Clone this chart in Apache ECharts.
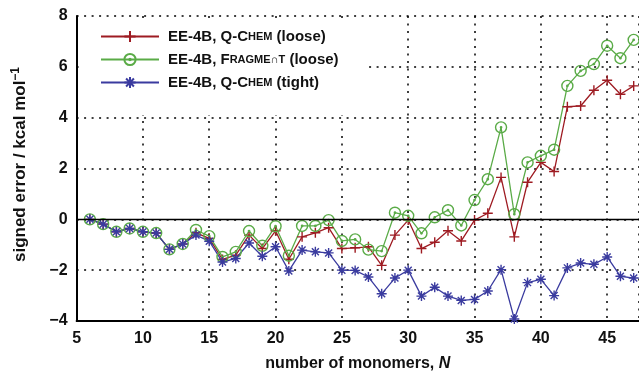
<!DOCTYPE html>
<html><head><meta charset="utf-8">
<script src="https://cdn.jsdelivr.net/npm/echarts@6/dist/echarts.min.js"></script>
<style>html,body{margin:0;padding:0;background:#fff}#c{width:639px;height:372px}</style>
</head><body><div id="c"></div>
<script>
const monomers = [6,7,8,9,10,11,12,13,14,15,16,17,18,19,20,21,22,23,24,25,26,27,28,29,30,31,32,33,34,35,36,37,38,39,40,41,42,43,44,45,46,47];
const qchemLoose = [0,-0.19,-0.49,-0.36,-0.49,-0.54,-1.18,-0.97,-0.53,-0.75,-1.58,-1.41,-0.62,-1.15,-0.45,
  -1.57,-0.69,-0.53,-0.33,-1.15,-1.12,-1.08,-1.81,-0.62,-0.03,-1.15,-0.90,-0.45,-0.85,
  -0.03,0.24,1.65,-0.69,1.46,2.24,1.88,4.43,4.46,5.08,5.47,4.92,5.25];
const fragmentLoose = [0,-0.19,-0.49,-0.36,-0.49,-0.54,-1.18,-0.97,-0.42,-0.66,-1.48,-1.28,-0.46,-1.04,-0.27,
  -1.43,-0.26,-0.26,-0.03,-0.85,-0.79,-1.19,-1.25,0.26,0.14,-0.55,0.08,0.36,-0.24,
  0.76,1.58,3.62,0.20,2.24,2.50,2.74,5.25,5.84,6.11,6.83,6.34,7.06];
const qchemTight = [0,-0.19,-0.49,-0.36,-0.49,-0.54,-1.18,-0.97,-0.62,-0.86,-1.68,-1.54,-0.93,-1.45,-1.08,
  -2.03,-1.21,-1.28,-1.32,-2.00,-2.01,-2.27,-2.93,-2.31,-2.00,-3.02,-2.67,-3.02,-3.19,
  -3.15,-2.82,-1.98,-3.92,-2.49,-2.36,-3.00,-1.91,-1.72,-1.77,-1.48,-2.24,-2.31];
const seriesNames = ['EE-4B, Q-Chem (loose)','EE-4B, Fragment (loose)','EE-4B, Q-Chem (tight)'];
const xTicks = [5,10,15,20,25,30,35,40,45];
const yTicks = [-4,-2,0,2,4,6,8];

const FONT = '"Liberation Sans", Arial, sans-serif';
const RED = '#9e1b22', GREEN = '#5aab47', BLUE = '#3a3b9f';
const pairs = arr => monomers.map((n,i)=>[n,arr[i]]);
const SYM_PLUS = 'path://M5,0 L5,10 M0,5 L10,5';
const SYM_CIRC = 'path://M10,5 A5,5 0 1 1 0,5 A5,5 0 1 1 10,5 Z M5.6,5 A0.6,0.6 0 1 1 4.4,5 A0.6,0.6 0 1 1 5.6,5 Z';
const SYM_AST = 'path://M5,0 L5,10 M0,5 L10,5 M1.5,1.5 L8.5,8.5 M8.5,1.5 L1.5,8.5';

function mk(name, arr, color, sym, size){
  return {name, type:'line', data:pairs(arr), symbol:sym, symbolSize:size,
    lineStyle:{color, width:1.3},
    itemStyle:{color:'rgba(0,0,0,0)', borderColor:color, borderWidth:1.4},
    emphasis:{disabled:true}, animation:false, z:3};
}
const series = [
  mk(seriesNames[0], qchemLoose, RED, SYM_PLUS, 10),
  mk(seriesNames[1], fragmentLoose, GREEN, SYM_CIRC, 11),
  mk(seriesNames[2], qchemTight, BLUE, SYM_AST, 10)
];
series[0].markLine = {silent:true, symbol:'none', label:{show:false}, animation:false,
  lineStyle:{color:'#000', type:'solid', width:1.3}, data:[{yAxis:0}]};

const chart = echarts.init(document.getElementById('c'), null, {renderer:'canvas'});
chart.setOption({
  animation:false,
  backgroundColor:'#fff',
  grid:{left:76.6, right:0, top:16, bottom:51, containLabel:false, outerBoundsMode:'none'},
  legend:{
    orient:'vertical', left:83, top:20, itemWidth:58, itemHeight:14, itemGap:8,
    padding:[9,30,25,17], backgroundColor:'#fff', z:10,
    data:seriesNames,
    textStyle:{fontFamily:FONT, fontWeight:'bold', fontSize:15, color:'#111', padding:[0,0,0,4],
      rich:{s:{fontFamily:FONT, fontWeight:'bold', fontSize:11, color:'#111'},
            n:{fontFamily:FONT, fontWeight:'bold', fontSize:15, color:'#111'}}},
    formatter: function(name){
      if(name===seriesNames[0]) return '{n|EE-4B, Q-C}{s|HEM}{n| (loose)}';
      if(name===seriesNames[1]) return '{n|EE-4B, F}{s|RAGME∩T}{n| (loose)}';
      return '{n|EE-4B, Q-C}{s|HEM}{n| (tight)}';
    }
  },
  xAxis:{
    type:'value', min:5, max:47.4, interval:5,
    name:'{a|number of monomers, }{i|N}', nameLocation:'middle', nameGap:35,
    nameTextStyle:{rich:{a:{fontFamily:FONT, fontWeight:'bold', fontSize:16, color:'#111'},
                         i:{fontFamily:FONT, fontWeight:'bold', fontStyle:'italic', fontSize:16, color:'#111'}}},
    axisLine:{show:true, onZero:false, lineStyle:{color:'#000', width:2}},
    axisTick:{show:false},
    axisLabel:{fontFamily:FONT, fontWeight:'bold', fontSize:16, color:'#111', margin:10,
      showMaxLabel:false, formatter:v=> xTicks.includes(v)? String(v):''},
    splitLine:{show:true, lineStyle:{color:'#000', type:[2,5.5], width:1.5}}
  },
  yAxis:{
    type:'value', min:-4, max:8, interval:2,
    name:'{a|signed error / kcal mol}{b|−1}', nameLocation:'middle', nameGap:46, nameRotate:90,
    nameTextStyle:{padding:[0,0,0,8], rich:{a:{fontFamily:FONT, fontWeight:'bold', fontSize:17, color:'#111'},
                         b:{fontFamily:FONT, fontWeight:'bold', fontSize:12, color:'#111', verticalAlign:'top', padding:[0,0,9,0]}}},
    axisLine:{show:true, onZero:false, lineStyle:{color:'#000', width:2}},
    axisTick:{show:false},
    axisLabel:{fontFamily:FONT, fontWeight:'bold', fontSize:16, color:'#111', margin:9,
      formatter:v=> yTicks.includes(v)? (v<0? '−'+Math.abs(v): String(v)) : ''},
    splitLine:{show:true, lineStyle:{color:'#000', type:[2,5.5], width:1.5}}
  },
  series
});
</script></body></html>
